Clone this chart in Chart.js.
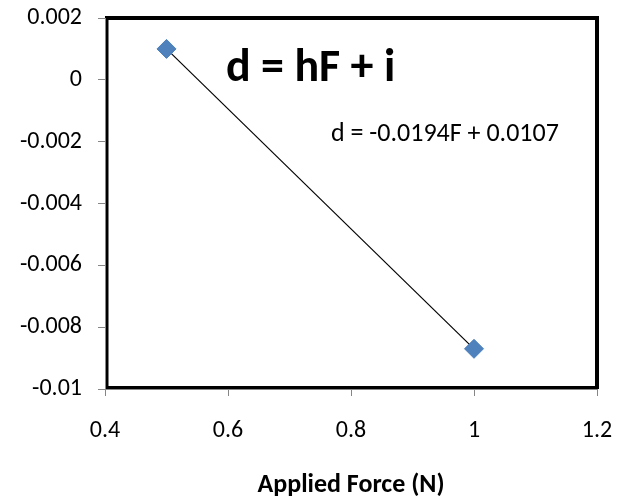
<!DOCTYPE html>
<html>
<head>
<meta charset="utf-8">
<script src="https://cdn.jsdelivr.net/npm/chart.js@4/dist/chart.umd.min.js"></script>
<style>
  html, body { margin: 0; padding: 0; background: #fff; }
  #wrap { width: 632px; height: 501px; }
</style>
</head>
<body>
<div id="wrap"><canvas id="myChart" width="632" height="501"></canvas></div>
<script>
const FONT = 'Carlito, Lato, "Liberation Sans", sans-serif';

// measured points: applied force (N) vs deflection d
const forces = [0.5, 1];
const deflections = [0.001, -0.0087];

// linear trendline d = hF + i
const slope = -0.0194;
const intercept = 0.0107;
const trendLabel = 'd = -0.0194F + 0.0107';
const modelLabel = 'd = hF + i';

const xTicks = [0.4, 0.6, 0.8, 1, 1.2];
const xTickLabels = ['0.4', '0.6', '0.8', '1', '1.2'];
const yTicks = [-0.01, -0.008, -0.006, -0.004, -0.002, 0, 0.002];
const yTickLabels = ['-0.01', '-0.008', '-0.006', '-0.004', '-0.002', '0', '0.002'];
const xTitle = 'Applied Force (N)';

const trendPoints = [forces[0], forces[forces.length - 1]].map(f => ({ x: f, y: slope * f + intercept }));

const canvas = document.getElementById('myChart');
const ctx = canvas.getContext('2d');

// black plot-area frame, drawn under the grey axis lines
const plotFrame = {
    id: 'plotFrame',
    beforeDraw(chart) {
        const a = chart.chartArea;
        const c = chart.ctx;
        c.save();
        c.strokeStyle = '#000';
        c.lineWidth = 4;
        c.beginPath();
        c.moveTo(a.left, a.top);
        c.lineTo(a.right, a.top);
        c.lineTo(a.right, a.bottom);
        c.stroke();
        c.lineWidth = 3;
        c.beginPath();
        c.moveTo(a.left + 2, a.top);
        c.lineTo(a.left + 2, a.bottom - 1.5);
        c.lineTo(a.right, a.bottom - 1.5);
        c.stroke();
        c.restore();
    }
};

// model label and fitted equation written inside the plot
const plotText = {
    id: 'plotText',
    afterDatasetsDraw(chart) {
        const c = chart.ctx;
        c.save();
        c.fillStyle = '#000';
        c.textBaseline = 'alphabetic';
        c.textAlign = 'left';
        c.font = 'bold 46px ' + FONT;
        c.fillText(modelLabel, 226, 81);
        c.font = '26px ' + FONT;
        c.fillText(trendLabel, 331, 141);
        c.restore();
    }
};

const noPad = s => {
    s.paddingTop = 0;
    s.paddingBottom = 0;
    s.paddingLeft = 0;
    s.paddingRight = 0;
};

const myChart = new Chart(ctx, {
    type: 'scatter',
    data: {
        datasets: [{
            label: 'trend',
            data: trendPoints,
            showLine: true,
            borderColor: '#000',
            borderWidth: 1.2,
            pointRadius: 0,
            order: 2
        }, {
            label: 'd',
            data: forces.map((f, i) => ({ x: f, y: deflections[i] })),
            pointStyle: 'rectRot',
            pointRadius: 9.5,
            pointBackgroundColor: '#4F81BD',
            pointBorderColor: '#4A7EBB',
            pointBorderWidth: 1,
            order: 1
        }]
    },
    options: {
        responsive: false,
        animation: false,
        layout: { padding: { left: 0, top: 18, right: 35, bottom: 0 } },
        plugins: {
            legend: { display: false },
            tooltip: { enabled: false }
        },
        scales: {
            x: {
                type: 'linear',
                min: 0.4,
                max: 1.2,
                afterFit: s => { s.height = 112; noPad(s); },
                afterBuildTicks: s => { s.ticks = xTicks.map(v => ({ value: v })); },
                border: { display: true, color: '#868686', width: 1 },
                grid: { drawOnChartArea: false, drawTicks: true, tickLength: 7, color: '#868686' },
                ticks: {
                    padding: 21,
                    color: '#000',
                    font: { family: FONT, size: 24 },
                    maxRotation: 0,
                    callback: (v, i) => xTickLabels[i]
                },
                title: {
                    display: true,
                    text: xTitle,
                    color: '#000',
                    font: { family: FONT, size: 26, weight: 'bold' },
                    padding: { top: 0, bottom: 0 }
                }
            },
            y: {
                type: 'linear',
                min: -0.01,
                max: 0.002,
                afterFit: s => { s.width = 105; noPad(s); },
                afterBuildTicks: s => { s.ticks = yTicks.map(v => ({ value: v })); },
                border: { display: true, color: '#868686', width: 1 },
                grid: { drawOnChartArea: false, drawTicks: true, tickLength: 7, color: '#868686' },
                ticks: {
                    padding: 16,
                    color: '#000',
                    font: { family: FONT, size: 24 },
                    callback: (v, i) => yTickLabels[i]
                }
            }
        }
    },
    plugins: [plotFrame, plotText]
});
</script>
</body>
</html>
